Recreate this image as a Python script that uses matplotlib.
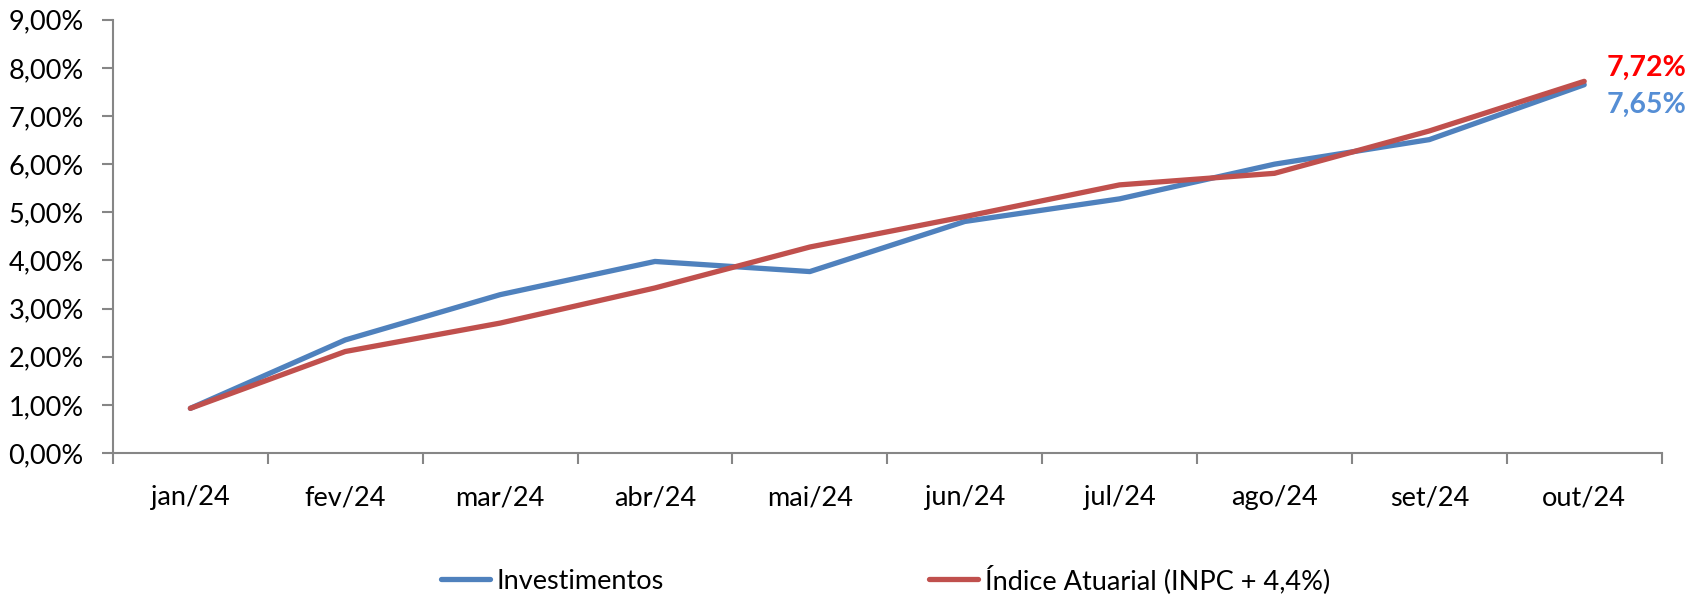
import matplotlib
matplotlib.use("Agg")
import matplotlib.pyplot as plt
import numpy as np

plt.rcParams['font.family'] = ['Lato', 'DejaVu Sans']

months = ['jan/24', 'fev/24', 'mar/24', 'abr/24', 'mai/24', 'jun/24', 'jul/24', 'ago/24', 'set/24', 'out/24']
investimentos = [0.93, 2.35, 3.29, 3.98, 3.77, 4.81, 5.28, 6.00, 6.51, 7.65]
indice_atuarial = [0.93, 2.11, 2.70, 3.43, 4.28, 4.91, 5.57, 5.81, 6.69, 7.72]

BLUE = '#4F81BD'
RED = '#C0504D'
GRAY = '#868686'

fig = plt.figure(figsize=(17.06, 5.97), dpi=100)
ax = fig.add_axes([0.0662, 0.241, 0.9078, 0.726])

x = np.arange(len(months))
ax.plot(x, investimentos, color=BLUE, lw=3.8, label='Investimentos', solid_capstyle='round')
ax.plot(x, indice_atuarial, color=RED, lw=3.8, label='Índice Atuarial (INPC + 4,4%)', solid_capstyle='round')

ax.set_xlim(-0.5, len(months) - 0.5)
ax.set_ylim(0, 9)

ax.set_xticks(x)
ax.set_xticklabels(months)
ax.set_xticks(np.arange(-0.5, len(months)), minor=True)
ax.tick_params(axis='x', which='major', length=0, pad=23, labelsize=19.5)
ax.tick_params(axis='x', which='minor', length=8, width=1.5, color=GRAY, direction='out')

ax.set_yticks(np.arange(0, 10))
ax.set_yticklabels([f'{v:.2f}%'.replace('.', ',') for v in range(10)])
ax.tick_params(axis='y', length=8, width=1.5, color=GRAY, pad=13, labelsize=19.5)

for s in ['top', 'right']:
    ax.spines[s].set_visible(False)
for s in ['left', 'bottom']:
    ax.spines[s].set_color(GRAY)
    ax.spines[s].set_linewidth(1.5)

# final values
ax.annotate(f'{indice_atuarial[-1]:.2f}%'.replace('.', ','), xy=(x[-1], indice_atuarial[-1]),
            xytext=(22, 13), textcoords='offset pixels', color='#FF0000',
            fontsize=20.5, fontweight='bold', va='center', ha='left', annotation_clip=False)
ax.annotate(f'{investimentos[-1]:.2f}%'.replace('.', ','), xy=(x[-1], investimentos[-1]),
            xytext=(22, -20), textcoords='offset pixels', color='#558ED5',
            fontsize=20.5, fontweight='bold', va='center', ha='left', annotation_clip=False)

fig.legend(loc='center', bbox_to_anchor=(0.519, 0.03), ncol=2, frameon=False,
           fontsize=19.5, handlelength=1.8, handletextpad=0.25, columnspacing=9.8)

fig.savefig('out.png', dpi=100)
